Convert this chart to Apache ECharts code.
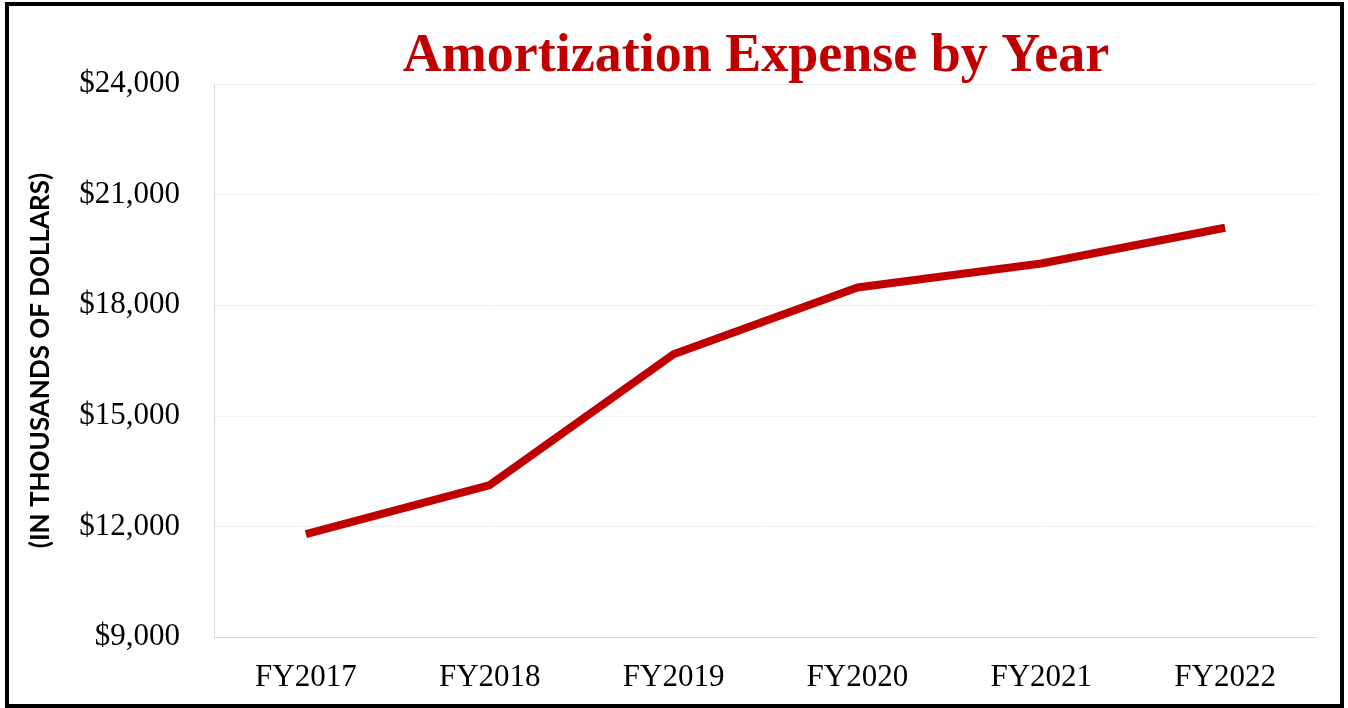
<!DOCTYPE html>
<html>
<head>
<meta charset="utf-8">
<style>
  html, body { margin: 0; padding: 0; background: #fff; }
  #main { width: 1348px; height: 708px; }
</style>
<script src="https://cdn.jsdelivr.net/npm/echarts@6/dist/echarts.min.js"></script>
</head>
<body>
<div id="main"></div>
<script>
var years = ['FY2017', 'FY2018', 'FY2019', 'FY2020', 'FY2021', 'FY2022'];
var amortization = [11790, 13120, 16670, 18480, 19130, 20100];
var yMin = 9000, yMax = 24000, yStep = 3000;

var chart = echarts.init(document.getElementById('main'));

var option = {
    backgroundColor: '#fff',
    animation: false,
    title: {
        text: 'Amortization Expense by Year',
        left: 751,
        top: 25,
        textAlign: 'center',
        textStyle: {
            color: '#C00000',
            fontFamily: 'Liberation Serif',
            fontWeight: 'bold',
            fontSize: 54
        }
    },
    graphic: [{
        type: 'rect',
        shape: { x: 7, y: 4, width: 1335, height: 702 },
        style: { fill: 'none', stroke: '#000', lineWidth: 4 },
        silent: true
    }],
    grid: {
        left: 214,
        right: 31,
        top: 84,
        bottom: 71
    },
    xAxis: {
        type: 'category',
        data: years,
        axisLine: { lineStyle: { color: '#d9d9d9', width: 1 } },
        axisTick: { show: false },
        axisLabel: {
            color: '#000',
            fontFamily: 'Liberation Serif',
            fontSize: 31,
            margin: 25
        }
    },
    yAxis: {
        type: 'value',
        min: yMin,
        max: yMax,
        interval: yStep,
        name: '(IN THOUSANDS OF DOLLARS)',
        nameLocation: 'middle',
        nameGap: 160,
        nameTextStyle: {
            color: '#000',
            fontFamily: 'Lato',
            fontWeight: 'bold',
            fontSize: 26
        },
        axisLine: { show: true, lineStyle: { color: '#d9d9d9', width: 1 } },
        axisTick: { show: false },
        splitLine: { lineStyle: { color: '#f0f0f0', width: 1 } },
        axisLabel: {
            color: '#000',
            fontFamily: 'Liberation Serif',
            fontSize: 31,
            margin: 34,
            padding: [6, 0, 0, 0],
            formatter: function (v) {
                return '$' + v.toLocaleString('en-US');
            }
        }
    },
    series: [{
        name: 'Amortization Expense',
        type: 'line',
        data: amortization,
        symbol: 'none',
        lineStyle: { color: '#C00000', width: 8 }
    }]
};

chart.setOption(option);
</script>
</body>
</html>
